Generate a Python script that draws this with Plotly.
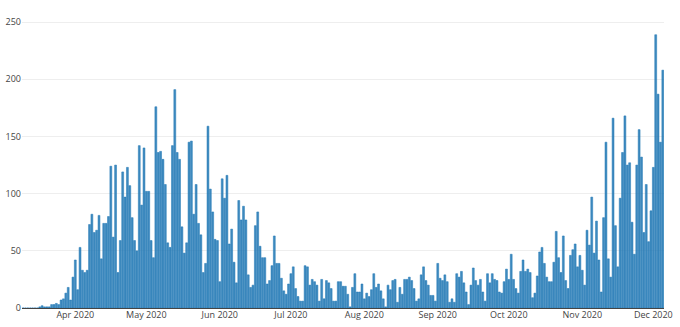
import pandas as pd
import plotly.graph_objects as go

start_date = "2020-03-10"
mar = [0, 0, 0, 0, 0, 0, 0, 1, 2, 1, 1, 1, 3, 3, 4, 3, 7, 8, 13, 18, 7, 27]
apr = [42, 16, 53, 33, 31, 33, 73, 82, 66, 68, 81, 43, 74, 74, 80, 124, 62, 125, 31, 59,
       119, 97, 123, 107, 79, 59, 50, 142, 90, 140]
may = [102, 102, 59, 44, 176, 136, 137, 130, 108, 57, 53, 142, 191, 136, 130, 71, 48, 57,
       145, 146, 82, 108, 74, 64, 31, 39, 159, 104, 84, 60, 59]
jun = [23, 113, 96, 116, 56, 69, 40, 22, 94, 77, 89, 77, 29, 18, 20, 72, 84, 54, 44, 44,
       21, 24, 37, 63, 39, 39, 26, 15, 12, 21]
jul = [30, 36, 17, 10, 6, 6, 37, 36, 20, 25, 23, 20, 6, 25, 8, 24, 22, 17, 6, 6, 23, 23,
       19, 19, 12, 1, 18, 30, 14, 14, 21]
aug = [8, 13, 10, 16, 30, 18, 21, 15, 8, 1, 20, 16, 24, 25, 5, 18, 12, 25, 25, 27, 24, 17,
       6, 8, 29, 36, 24, 20, 11, 11, 6]
sep = [39, 26, 24, 29, 23, 5, 8, 5, 30, 27, 32, 22, 14, 3, 20, 35, 24, 20, 25, 14, 6, 30,
       22, 30, 25, 24, 14, 13, 23, 34]
oct_ = [25, 47, 25, 17, 13, 32, 42, 32, 34, 31, 9, 13, 28, 49, 53, 39, 27, 23, 23, 40, 67,
        44, 31, 63, 24, 17, 46, 51, 56, 36, 46]
nov = [33, 20, 68, 55, 97, 48, 76, 42, 14, 79, 145, 43, 27, 166, 72, 36, 96, 136, 168, 125,
       127, 75, 47, 125, 156, 132, 66, 108, 58, 85]
dec = [123, 239, 187, 145, 208]

values = mar + apr + may + jun + jul + aug + sep + oct_ + nov + dec
dates = pd.date_range(start_date, periods=len(values), freq="D")

tick_vals = ["2020-04-01", "2020-05-01", "2020-06-01", "2020-07-01", "2020-08-01",
             "2020-09-01", "2020-10-01", "2020-11-01", "2020-12-01"]
tick_text = ["Apr 2020", "May 2020", "Jun 2020", "Jul 2020", "Aug 2020",
             "Sep 2020", "Oct 2020", "Nov 2020", "Dec 2020"]
y_ticks = [0, 50, 100, 150, 200, 250]

fig = go.Figure(go.Bar(
    x=dates, y=values,
    marker=dict(color="rgba(31,119,180,0.85)", line=dict(color="#1f77b4", width=0.5)),
))
fig.update_layout(
    template="none",
    width=680, height=327,
    margin=dict(l=22, r=16, t=21, b=19),
    paper_bgcolor="white", plot_bgcolor="white",
    font=dict(family="Open Sans, verdana, arial, sans-serif", size=9, color="#444"),
    showlegend=False,
    bargap=0.2,
)
fig.update_xaxes(
    range=["2020-03-09 12:00", "2020-12-05 12:00"],
    tickvals=tick_vals, ticktext=tick_text,
    showgrid=False, zeroline=False, showline=False, ticks="",
)
fig.update_yaxes(
    range=[0, 251], tickvals=y_ticks,
    showgrid=True, gridcolor="#eee", gridwidth=1,
    zeroline=True, zerolinecolor="#444", zerolinewidth=1,
    showline=False, ticks="",
)
fig.write_html("out.html")
